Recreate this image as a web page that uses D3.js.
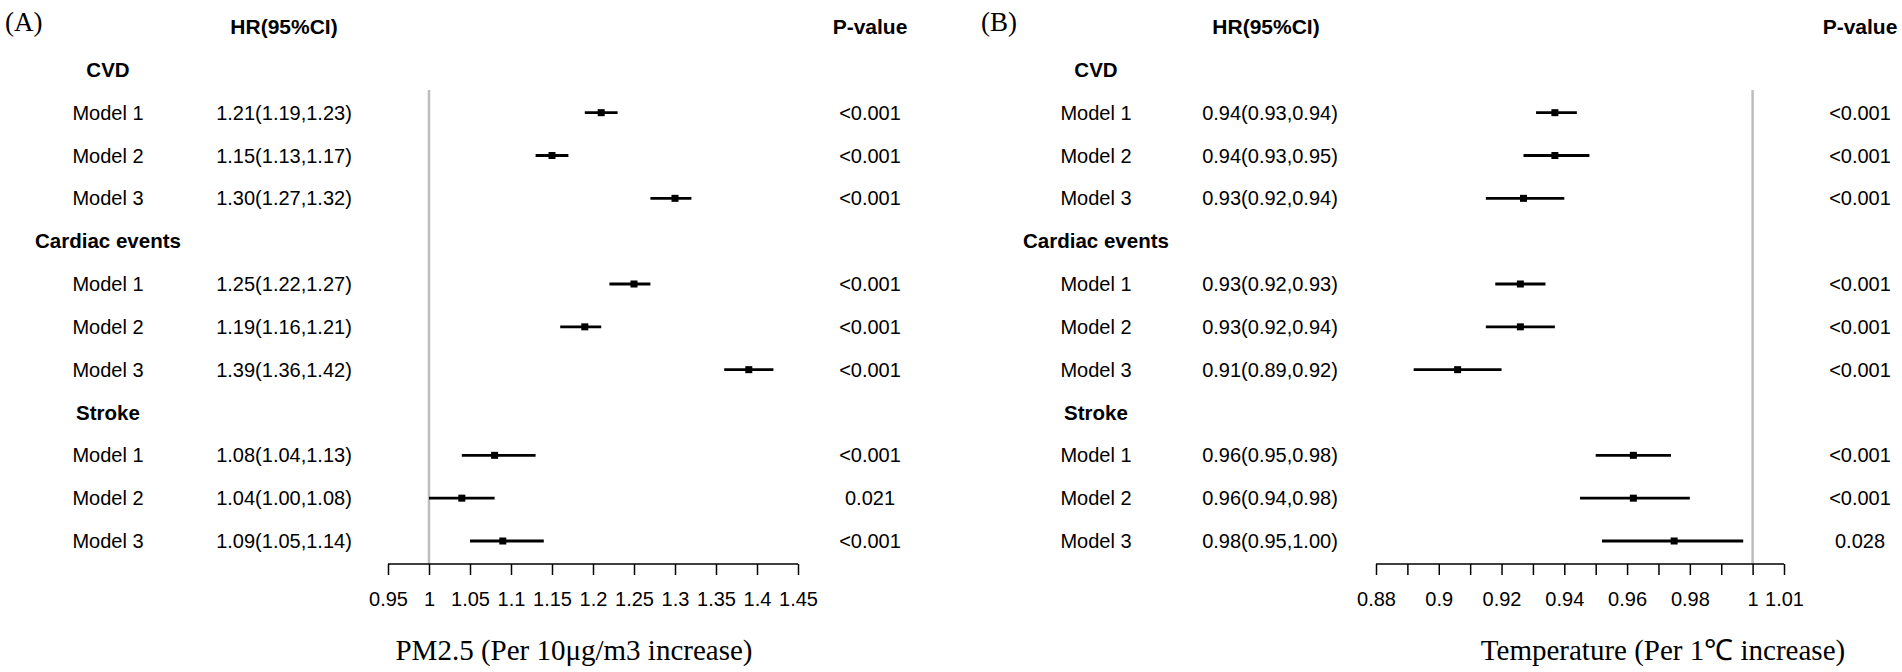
<!DOCTYPE html>
<html>
<head>
<meta charset="utf-8">
<script src="https://cdn.jsdelivr.net/npm/d3@7"></script>
<style>
  body { margin: 0; background: #fff; }
  svg { display: block; }
  .sans { font-family: Arial, "Liberation Sans", sans-serif; }
  .serif { font-family: "Times New Roman", "Liberation Serif", serif; }
</style>
</head>
<body>
<div id="chart"></div>
<script>
// ---- data ----
var groups = ["CVD", "Cardiac events", "Stroke"];
var models = ["Model 1", "Model 2", "Model 3"];

// PM2.5 (panel A)
var pmHR   = [1.21, 1.15, 1.30, 1.25, 1.19, 1.39, 1.08, 1.04, 1.09];
var pmLow  = [1.19, 1.13, 1.27, 1.22, 1.16, 1.36, 1.04, 1.00, 1.05];
var pmHigh = [1.23, 1.17, 1.32, 1.27, 1.21, 1.42, 1.13, 1.08, 1.14];
var pmText = ["1.21(1.19,1.23)", "1.15(1.13,1.17)", "1.30(1.27,1.32)",
              "1.25(1.22,1.27)", "1.19(1.16,1.21)", "1.39(1.36,1.42)",
              "1.08(1.04,1.13)", "1.04(1.00,1.08)", "1.09(1.05,1.14)"];
var pmP    = ["<0.001", "<0.001", "<0.001", "<0.001", "<0.001", "<0.001",
              "<0.001", "0.021", "<0.001"];
var pmTicks = [0.95, 1, 1.05, 1.1, 1.15, 1.2, 1.25, 1.3, 1.35, 1.4, 1.45];
var pmTickLabels = ["0.95", "1", "1.05", "1.1", "1.15", "1.2", "1.25", "1.3", "1.35", "1.4", "1.45"];

// Temperature (panel B)
var tHR   = [0.937, 0.937, 0.927, 0.926, 0.926, 0.906, 0.962, 0.962, 0.975];
var tLow  = [0.931, 0.927, 0.915, 0.918, 0.915, 0.892, 0.950, 0.945, 0.952];
var tHigh = [0.944, 0.948, 0.940, 0.934, 0.937, 0.920, 0.974, 0.980, 0.997];
var tText = ["0.94(0.93,0.94)", "0.94(0.93,0.95)", "0.93(0.92,0.94)",
             "0.93(0.92,0.93)", "0.93(0.92,0.94)", "0.91(0.89,0.92)",
             "0.96(0.95,0.98)", "0.96(0.94,0.98)", "0.98(0.95,1.00)"];
var tP    = ["<0.001", "<0.001", "<0.001", "<0.001", "<0.001", "<0.001",
             "<0.001", "<0.001", "0.028"];
var tTicks = [0.88, 0.89, 0.9, 0.91, 0.92, 0.93, 0.94, 0.95, 0.96, 0.97, 0.98, 0.99, 1, 1.01];
var tTickLabels = ["0.88", "", "0.9", "", "0.92", "", "0.94", "", "0.96", "", "0.98", "", "1", "1.01"];

var W = 1902, H = 672;

var svg = d3.select("#chart").append("svg")
    .attr("width", W)
    .attr("height", H);

// row 0 = header, then group / 3 models repeated
var yScale = d3.scaleLinear().domain([0, 12]).range([27, 541]);
var axisY = 564;

function drawPanel(p) {
    var g = svg.append("g").attr("transform", "translate(" + p.dx + ",0)");

    var xScale = d3.scaleLinear()
        .domain([p.ticks[0], p.ticks[p.ticks.length - 1]])
        .range([p.x0, p.x1]);

    // panel letter
    g.append("text").attr("class", "serif")
        .attr("x", p.letterX).attr("y", 31)
        .style("font-size", "27px")
        .text(p.letter);

    // headers
    g.append("text").attr("class", "sans")
        .attr("x", p.hrHeadX).attr("y", yScale(0))
        .attr("text-anchor", "middle").attr("dy", "0.35em")
        .style("font-size", "21px").style("font-weight", "bold")
        .text("HR(95%CI)");
    g.append("text").attr("class", "sans")
        .attr("x", p.pX).attr("y", yScale(0))
        .attr("text-anchor", "middle").attr("dy", "0.35em")
        .style("font-size", "21px").style("font-weight", "bold")
        .text("P-value");

    // rows
    var rows = [];
    groups.forEach(function (gr, gi) {
        rows.push({ type: "group", label: gr, row: gi * 4 + 1 });
        models.forEach(function (m, mi) {
            var k = gi * 3 + mi;
            rows.push({
                type: "model", label: m, row: gi * 4 + 2 + mi,
                hr: p.hr[k], lo: p.lo[k], hi: p.hi[k], txt: p.txt[k], pv: p.pv[k]
            });
        });
    });

    g.selectAll(".lab")
        .data(rows)
        .enter()
        .append("text")
        .attr("class", "sans")
        .attr("x", p.labX)
        .attr("y", function (d) { return yScale(d.row); })
        .attr("dy", "0.35em")
        .attr("text-anchor", "middle")
        .style("font-size", function (d) { return d.type == "group" ? "20.5px" : "20px"; })
        .style("font-weight", function (d) { return d.type == "group" ? "bold" : "normal"; })
        .text(function (d) { return d.label; });

    var mrows = rows.filter(function (d) { return d.type == "model"; });

    g.selectAll(".hrtxt")
        .data(mrows)
        .enter()
        .append("text")
        .attr("class", "sans")
        .attr("x", p.hrX)
        .attr("y", function (d) { return yScale(d.row); })
        .attr("dy", "0.35em")
        .attr("text-anchor", "middle")
        .style("font-size", "20px")
        .text(function (d) { return d.txt; });

    g.selectAll(".ptxt")
        .data(mrows)
        .enter()
        .append("text")
        .attr("class", "sans")
        .attr("x", p.pX)
        .attr("y", function (d) { return yScale(d.row); })
        .attr("dy", "0.35em")
        .attr("text-anchor", "middle")
        .style("font-size", "20px")
        .text(function (d) { return d.pv; });

    // reference line at 1
    g.append("line")
        .attr("x1", xScale(1)).attr("x2", xScale(1))
        .attr("y1", 90).attr("y2", axisY)
        .attr("stroke", "#bdbdbd")
        .attr("stroke-width", 2.5);

    // CIs
    g.selectAll(".ci")
        .data(mrows)
        .enter()
        .append("line")
        .attr("x1", function (d) { return xScale(d.lo); })
        .attr("x2", function (d) { return xScale(d.hi); })
        .attr("y1", function (d) { return yScale(d.row); })
        .attr("y2", function (d) { return yScale(d.row); })
        .attr("stroke", "#000")
        .attr("stroke-width", 2.8);

    g.selectAll(".box")
        .data(mrows)
        .enter()
        .append("rect")
        .attr("x", function (d) { return xScale(d.hr) - 3.5; })
        .attr("y", function (d) { return yScale(d.row) - 3.5; })
        .attr("width", 7)
        .attr("height", 7)
        .attr("fill", "#000");

    // Axis Code
    var xAxis = d3.axisBottom(xScale)
        .tickValues(p.ticks)
        .tickSize(11)
        .tickPadding(17)
        .tickFormat(function (d, i) { return p.tickLabels[i]; });

    var ax = g.append("g")
        .attr("transform", "translate(0," + axisY + ")")
        .call(xAxis);
    ax.select(".domain").attr("d", "M" + p.x0 + ",0H" + p.x1)
        .attr("stroke-width", 1.5);
    ax.selectAll(".tick line").attr("stroke-width", 1.5);
    ax.selectAll("text")
        .style("font-family", "Arial, 'Liberation Sans', sans-serif")
        .style("font-size", "20px")
        .attr("fill", "#000");

    g.append("text").attr("class", "serif")
        .attr("x", p.titleX).attr("y", 660)
        .attr("text-anchor", "middle")
        .style("font-size", "29px")
        .text(p.title);
}

drawPanel({
    dx: 0, letter: "(A)", letterX: 5, labX: 108, hrX: 284, hrHeadX: 284, pX: 870,
    x0: 388, x1: 798, titleX: 574,
    hr: pmHR, lo: pmLow, hi: pmHigh, txt: pmText, pv: pmP,
    ticks: pmTicks, tickLabels: pmTickLabels,
    title: "PM2.5 (Per 10\u03bcg/m3 increase)"
});

drawPanel({
    dx: 988, letter: "(B)", letterX: -7, labX: 108, hrX: 282, hrHeadX: 278, pX: 872,
    x0: 1376 - 988, x1: 1784 - 988, titleX: 1663 - 988,
    hr: tHR, lo: tLow, hi: tHigh, txt: tText, pv: tP,
    ticks: tTicks, tickLabels: tTickLabels,
    title: "Temperature (Per 1\u2103 increase)"
});
</script>
</body>
</html>
